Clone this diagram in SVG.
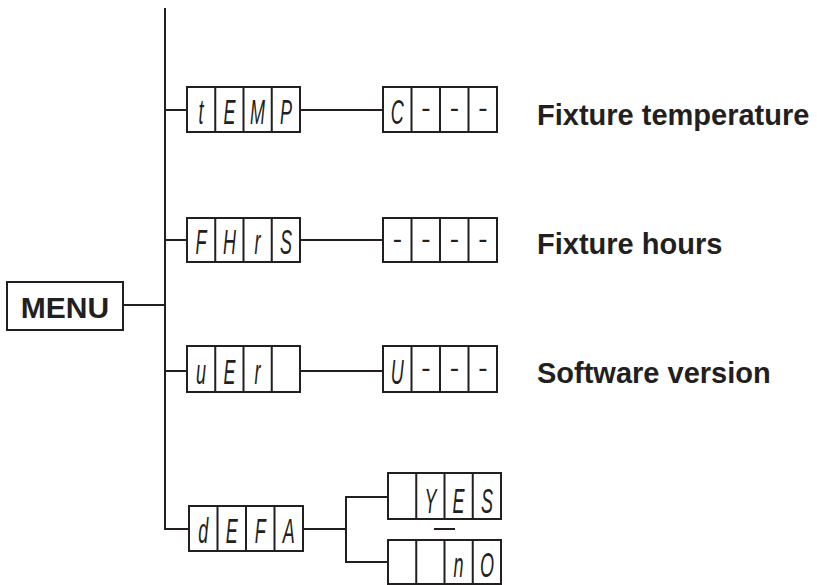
<svg xmlns="http://www.w3.org/2000/svg" width="817" height="585" viewBox="0 0 817 585">
<style>
  .box { fill: #fff; stroke: #231f20; stroke-width: 2; }
  .div { stroke: #231f20; stroke-width: 2; }
  .wire { fill: none; stroke: #231f20; stroke-width: 2; }
  .seg { font-family: "Liberation Sans", Arial, sans-serif; font-size: 36px; font-style: italic; fill: #231f20; text-anchor: middle; }
  .dash { font-family: "Liberation Sans", Arial, sans-serif; font-size: 28px; fill: #231f20; text-anchor: middle; }
  .lbl { font-family: "Liberation Sans", Arial, sans-serif; font-size: 29px; font-weight: bold; fill: #231f20; }
  .menu { font-family: "Liberation Sans", Arial, sans-serif; font-size: 30px; font-weight: bold; fill: #231f20; text-anchor: middle; }
</style>
<rect width="817" height="585" fill="#fff"/>

<g id="connectors">
  <path class="wire" d="M165 8 V529 H189"/>
  <path class="wire" d="M165 110 H187"/>
  <path class="wire" d="M165 240 H187"/>
  <path class="wire" d="M123 305 H165"/>
  <path class="wire" d="M165 371 H187"/>
  <path class="wire" d="M300 110 H383"/>
  <path class="wire" d="M300 240 H383"/>
  <path class="wire" d="M300 371 H383"/>
  <path class="wire" d="M303 529 H346"/>
  <path class="wire" d="M388 497 H346 V562 H388"/>
</g>

<g id="menu">
  <rect class="box" x="7" y="282" width="116" height="48"/>
  <text class="menu" x="65" y="318">MENU</text>
</g>

<g id="tEMP">
  <rect class="box" x="187" y="87" width="113" height="45"/>
  <path class="div" d="M215.25 87 V132 M243.5 87 V132 M271.75 87 V132"/>
  <g transform="translate(187,124) scale(0.5,1)"><text class="seg" x="28 85 141 198" y="0">tEMP</text></g>
</g>
<g id="C---">
  <rect class="box" x="383" y="87" width="114" height="45"/>
  <path class="div" d="M411.5 87 V132 M440 87 V132 M468.5 87 V132"/>
  <g transform="translate(383,124) scale(0.5,1)"><text class="seg" x="28.5" y="0">C</text></g>
  <text class="dash" x="426 454.5 483" y="117">---</text>
</g>
<g id="label-temp"><text class="lbl" x="537" y="125">Fixture temperature</text></g>

<g id="FHrS">
  <rect class="box" x="187" y="218" width="113" height="44"/>
  <path class="div" d="M215.25 218 V262 M243.5 218 V262 M271.75 218 V262"/>
  <g transform="translate(187,254) scale(0.5,1)"><text class="seg" x="28 85 141 198" y="0">FHrS</text></g>
</g>
<g id="----">
  <rect class="box" x="383" y="218" width="114" height="44"/>
  <path class="div" d="M411.5 218 V262 M440 218 V262 M468.5 218 V262"/>
  <text class="dash" x="397.5 426 454.5 483" y="247.5">----</text>
</g>
<g id="label-hours"><text class="lbl" x="537" y="254">Fixture hours</text></g>

<g id="uEr">
  <rect class="box" x="187" y="346" width="113" height="46"/>
  <path class="div" d="M215.25 346 V392 M243.5 346 V392 M271.75 346 V392"/>
  <g transform="translate(187,384) scale(0.5,1)"><text class="seg" x="28 85 141" y="0">uEr</text></g>
</g>
<g id="U---">
  <rect class="box" x="383" y="346" width="114" height="46"/>
  <path class="div" d="M411.5 346 V392 M440 346 V392 M468.5 346 V392"/>
  <g transform="translate(383,384) scale(0.5,1)"><text class="seg" x="28.5" y="0">U</text></g>
  <text class="dash" x="426 454.5 483" y="376.5">---</text>
</g>
<g id="label-version"><text class="lbl" x="537" y="383">Software version</text></g>

<g id="dEFA">
  <rect class="box" x="189" y="506" width="114" height="45"/>
  <path class="div" d="M217.5 506 V551 M246 506 V551 M274.5 506 V551"/>
  <g transform="translate(189,543) scale(0.5,1)"><text class="seg" x="28.5 85.5 142.5 199.5" y="0">dEFA</text></g>
</g>
<g id="YES">
  <rect class="box" x="388" y="473" width="113" height="46"/>
  <path class="div" d="M416.25 473 V519 M444.5 473 V519 M472.75 473 V519"/>
  <g transform="translate(388,513) scale(0.5,1)"><text class="seg" x="85 141 198" y="0">YES</text></g>
</g>
<g id="separator"><path class="div" d="M434 529 H455"/></g>
<g id="nO">
  <rect class="box" x="388" y="540" width="113" height="44"/>
  <path class="div" d="M416.25 540 V584 M444.5 540 V584 M472.75 540 V584"/>
  <g transform="translate(388,577) scale(0.5,1)"><text class="seg" x="141 198" y="0">nO</text></g>
</g>
</svg>
